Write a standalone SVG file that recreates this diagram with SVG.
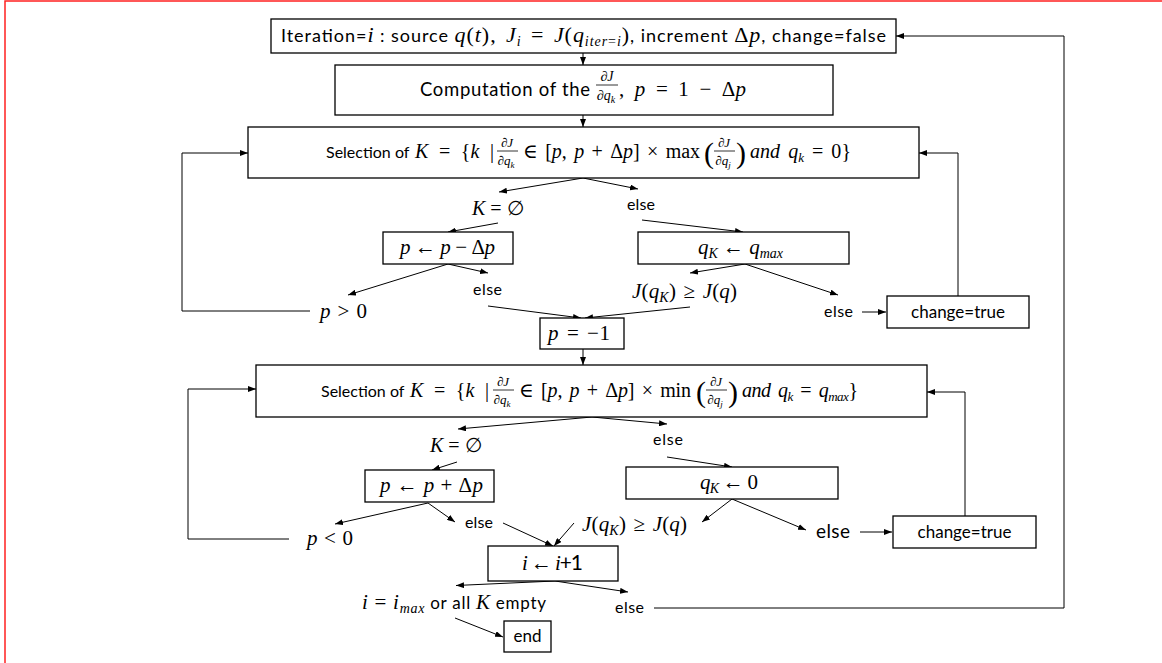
<svg xmlns="http://www.w3.org/2000/svg" width="1162" height="663" viewBox="0 0 1162 663">
<defs>
<marker id="ah" markerUnits="userSpaceOnUse" markerWidth="8" markerHeight="6" refX="8" refY="3" orient="auto">
<path d="M0,0 L8,3 L0,6 z" fill="#000"/>
</marker>
<style>
.box{fill:#fff;stroke:#000;stroke-width:1.3}
.ln{fill:none;stroke:#000;stroke-width:1;marker-end:url(#ah)}
.s{font-family:Lato,"Liberation Sans",sans-serif;fill:#000}
.m{font-family:"Liberation Serif","DejaVu Serif",serif;font-style:italic;fill:#000}
.r{font-style:normal}
.bar{stroke:#000;stroke-width:0.8}
</style>
</defs>
<rect x="5" y="1" width="1200" height="700" fill="none" stroke="#ff2020" stroke-width="1.5"/>

<g id="connectors">
<line class="ln" x1="583" y1="53" x2="583" y2="65"/>
<line class="ln" x1="583" y1="115" x2="583" y2="127"/>
<line class="ln" x1="583" y1="178" x2="499" y2="192"/>
<line class="ln" x1="583" y1="178" x2="638" y2="189"/>
<line class="ln" x1="498" y1="223" x2="448" y2="232"/>
<line class="ln" x1="642" y1="220" x2="743" y2="232"/>
<line class="ln" x1="448" y1="264" x2="348" y2="295"/>
<line class="ln" x1="448" y1="264" x2="488" y2="273"/>
<line class="ln" x1="745" y1="264" x2="690" y2="273"/>
<line class="ln" x1="745" y1="264" x2="838" y2="295"/>
<line class="ln" x1="488" y1="306" x2="581" y2="318"/>
<line class="ln" x1="690" y1="307" x2="585" y2="318"/>
<line class="ln" x1="862" y1="312" x2="886" y2="312"/>
<polyline class="ln" points="310,311 182,311 182,153 248,153"/>
<polyline class="ln" points="958,296 958,153 919,153"/>
<line class="ln" x1="583" y1="349" x2="583" y2="365"/>
<line class="ln" x1="592" y1="417" x2="458" y2="429"/>
<line class="ln" x1="592" y1="417" x2="667" y2="424"/>
<line class="ln" x1="457" y1="462" x2="432" y2="470"/>
<line class="ln" x1="667" y1="457" x2="732" y2="467"/>
<line class="ln" x1="428" y1="503" x2="335" y2="524"/>
<line class="ln" x1="428" y1="503" x2="455" y2="522"/>
<line class="ln" x1="732" y1="499" x2="702" y2="522"/>
<line class="ln" x1="732" y1="499" x2="806" y2="530"/>
<line class="ln" x1="503" y1="523" x2="553" y2="546"/>
<line class="ln" x1="574" y1="523" x2="554" y2="546"/>
<line class="ln" x1="860" y1="532" x2="892" y2="532"/>
<polyline class="ln" points="289,539 188,539 188,389 256,389"/>
<polyline class="ln" points="965,516 965,392 927,392"/>
<line class="ln" x1="555" y1="581" x2="456" y2="585.5"/>
<line class="ln" x1="555" y1="581" x2="628" y2="592"/>
<line class="ln" x1="455" y1="618" x2="503" y2="637"/>
<polyline class="ln" points="654,608 1064,608 1064,36 896,36"/>
</g>

<g id="n_init">
<rect class="box" x="271" y="19" width="625" height="34"/>
<text class="s" x="281" y="42" font-size="18" textLength="605">Iteration=<tspan class="m" font-size="22">i</tspan> : source <tspan class="m" font-size="22" word-spacing="3">q<tspan class="r">(</tspan>t<tspan class="r">),</tspan> J<tspan font-size="14" dy="4">i</tspan><tspan class="r" dy="-4"> = </tspan>J<tspan class="r">(</tspan>q<tspan font-size="14" dy="4">iter<tspan class="r">=</tspan>i</tspan><tspan class="r" dy="-4">)</tspan></tspan>, increment <tspan class="m" font-size="22"><tspan class="r">Δ</tspan>p</tspan>, change=false</text>
</g>

<g id="n_grad">
<rect class="box" x="335" y="65" width="498" height="50"/>
<text class="s" x="420" y="96" font-size="18.5" textLength="170">Computation of the</text>
<text class="m" x="607" y="81" font-size="14" text-anchor="middle"><tspan class="r">∂</tspan>J</text>
<line class="bar" x1="596" y1="85" x2="618" y2="85"/>
<text class="m" x="606" y="100" font-size="14" text-anchor="middle"><tspan class="r">∂</tspan>q<tspan font-size="10" dy="3">k</tspan></text>
<text class="m" x="619" y="96" font-size="21" word-spacing="5" textLength="127"><tspan class="r">, </tspan>p<tspan class="r"> = 1 − Δ</tspan>p</text>
</g>

<g id="n_sel1">
<rect class="box" x="248" y="127" width="671" height="51"/>
<text class="s" x="326" y="158" font-size="16">Selection of</text>
<text class="m" x="415" y="158" font-size="20" word-spacing="5" textLength="79">K<tspan class="r"> = {</tspan>k<tspan class="r"> |</tspan></text>
<text class="m" x="507" y="147" font-size="13" text-anchor="middle"><tspan class="r">∂</tspan>J</text>
<line class="bar" x1="497" y1="151" x2="518" y2="151"/>
<text class="m" x="506" y="165" font-size="13" text-anchor="middle"><tspan class="r">∂</tspan>q<tspan font-size="9" dy="3">k</tspan></text>
<text class="m" x="523" y="158" font-size="20" word-spacing="2.5" textLength="177"><tspan class="r">∈ [</tspan>p<tspan class="r">, </tspan>p<tspan class="r"> + Δ</tspan>p<tspan class="r">] × max</tspan></text>
<text class="m" x="704" y="163" font-size="30" style="font-style:normal">(</text>
<text class="m" x="724" y="147" font-size="13" text-anchor="middle"><tspan class="r">∂</tspan>J</text>
<line class="bar" x1="714" y1="151" x2="735" y2="151"/>
<text class="m" x="723" y="165" font-size="13" text-anchor="middle"><tspan class="r">∂</tspan>q<tspan font-size="9" dy="3">j</tspan></text>
<text class="m" x="736" y="163" font-size="30" style="font-style:normal">)</text>
<text class="m" x="750" y="158" font-size="20" word-spacing="3" textLength="101">and q<tspan font-size="13" dy="4">k</tspan><tspan class="r" dy="-4"> = 0}</tspan></text>
</g>

<g id="n_dec1">
<rect class="box" x="383" y="232" width="130" height="32"/>
<text class="m" x="400" y="254" font-size="21" textLength="95">p<tspan class="r"> ← </tspan>p<tspan class="r"> − Δ</tspan>p</text>
</g>

<g id="n_max">
<rect class="box" x="638" y="232" width="211" height="32"/>
<text class="m" x="698" y="254" font-size="21" textLength="85">q<tspan font-size="14" dy="4">K</tspan><tspan class="r" dy="-4"> ← </tspan>q<tspan font-size="14" dy="4">max</tspan></text>
</g>

<g id="n_chg1">
<rect class="box" x="887" y="296" width="142" height="32"/>
<text class="s" x="958" y="318" font-size="17" text-anchor="middle">change=true</text>
</g>

<g id="n_pm1">
<rect class="box" x="540" y="318" width="84" height="31"/>
<text class="m" x="548" y="340" font-size="21" word-spacing="2" textLength="62">p<tspan class="r"> = −1</tspan></text>
</g>

<g id="n_sel2">
<rect class="box" x="256" y="365" width="671" height="52"/>
<text class="s" x="321" y="397" font-size="16">Selection of</text>
<text class="m" x="410" y="397" font-size="20" word-spacing="5" textLength="79">K<tspan class="r"> = {</tspan>k<tspan class="r"> |</tspan></text>
<text class="m" x="503" y="386" font-size="13" text-anchor="middle"><tspan class="r">∂</tspan>J</text>
<line class="bar" x1="493" y1="390" x2="514" y2="390"/>
<text class="m" x="502" y="404" font-size="13" text-anchor="middle"><tspan class="r">∂</tspan>q<tspan font-size="9" dy="3">k</tspan></text>
<text class="m" x="519" y="397" font-size="20" word-spacing="2.5" textLength="172"><tspan class="r">∈ [</tspan>p<tspan class="r">, </tspan>p<tspan class="r"> + Δ</tspan>p<tspan class="r">] × min</tspan></text>
<text class="m" x="696" y="402" font-size="30" style="font-style:normal">(</text>
<text class="m" x="716" y="386" font-size="13" text-anchor="middle"><tspan class="r">∂</tspan>J</text>
<line class="bar" x1="706" y1="390" x2="727" y2="390"/>
<text class="m" x="715" y="404" font-size="13" text-anchor="middle"><tspan class="r">∂</tspan>q<tspan font-size="9" dy="3">j</tspan></text>
<text class="m" x="728" y="402" font-size="30" style="font-style:normal">)</text>
<text class="m" x="742" y="397" font-size="20" word-spacing="3" textLength="116">and q<tspan font-size="13" dy="4">k</tspan><tspan class="r" dy="-4"> = </tspan>q<tspan font-size="13" dy="4">max</tspan><tspan class="r" dy="-4">}</tspan></text>
</g>

<g id="n_inc">
<rect class="box" x="365" y="470" width="129" height="32"/>
<text class="m" x="380" y="492" font-size="21" textLength="103">p<tspan class="r"> ← </tspan>p<tspan class="r"> + Δ</tspan>p</text>
</g>

<g id="n_zero">
<rect class="box" x="626" y="467" width="212" height="32"/>
<text class="m" x="700" y="489" font-size="21" textLength="58">q<tspan font-size="14" dy="4">K</tspan><tspan class="r" dy="-4"> ← 0</tspan></text>
</g>

<g id="n_chg2">
<rect class="box" x="893" y="516" width="143" height="32"/>
<text class="s" x="964.5" y="538" font-size="17" text-anchor="middle">change=true</text>
</g>

<g id="n_iter">
<rect class="box" x="488" y="546" width="130" height="35"/>
<text class="m" x="522" y="570" font-size="21" textLength="61">i<tspan class="r"> ← </tspan>i<tspan class="s r">+1</tspan></text>
</g>

<g id="n_end">
<rect class="box" x="504" y="621" width="47" height="31"/>
<text class="s" x="527.5" y="642" font-size="17" text-anchor="middle">end</text>
</g>

<g id="labels">
<text class="m" x="472" y="215" font-size="20">K<tspan class="r"> = ∅</tspan></text>
<text class="s" x="627" y="210" font-size="16" textLength="28">else</text>
<text class="m" x="320" y="318" font-size="21" textLength="47">p<tspan class="r"> &gt; 0</tspan></text>
<text class="s" x="473" y="295" font-size="16" textLength="29">else</text>
<text class="m" x="632" y="298" font-size="21" word-spacing="2" textLength="105">J<tspan class="r">(</tspan>q<tspan font-size="14" dy="4">K</tspan><tspan class="r" dy="-4">) ≥ </tspan>J<tspan class="r">(</tspan>q<tspan class="r">)</tspan></text>
<text class="s" x="824" y="317" font-size="16" textLength="29">else</text>
<text class="m" x="430" y="452" font-size="20">K<tspan class="r"> = ∅</tspan></text>
<text class="s" x="653" y="445" font-size="16" textLength="30">else</text>
<text class="s" x="465" y="528" font-size="16" textLength="28">else</text>
<text class="m" x="582" y="531" font-size="21" word-spacing="2" textLength="105">J<tspan class="r">(</tspan>q<tspan font-size="14" dy="4">K</tspan><tspan class="r" dy="-4">) ≥ </tspan>J<tspan class="r">(</tspan>q<tspan class="r">)</tspan></text>
<text class="m" x="307" y="545" font-size="21" textLength="46">p<tspan class="r"> &lt; 0</tspan></text>
<text class="s" x="816" y="538" font-size="19" textLength="34">else</text>
<text class="s" x="362" y="609" font-size="17" textLength="184"><tspan class="m" font-size="21">i<tspan class="r"> = </tspan>i<tspan font-size="14" dy="4">max</tspan></tspan><tspan dy="-4"> or all </tspan><tspan class="m" font-size="21">K</tspan> empty</text>
<text class="s" x="615" y="613" font-size="16" textLength="29">else</text>
</g>
</svg>
